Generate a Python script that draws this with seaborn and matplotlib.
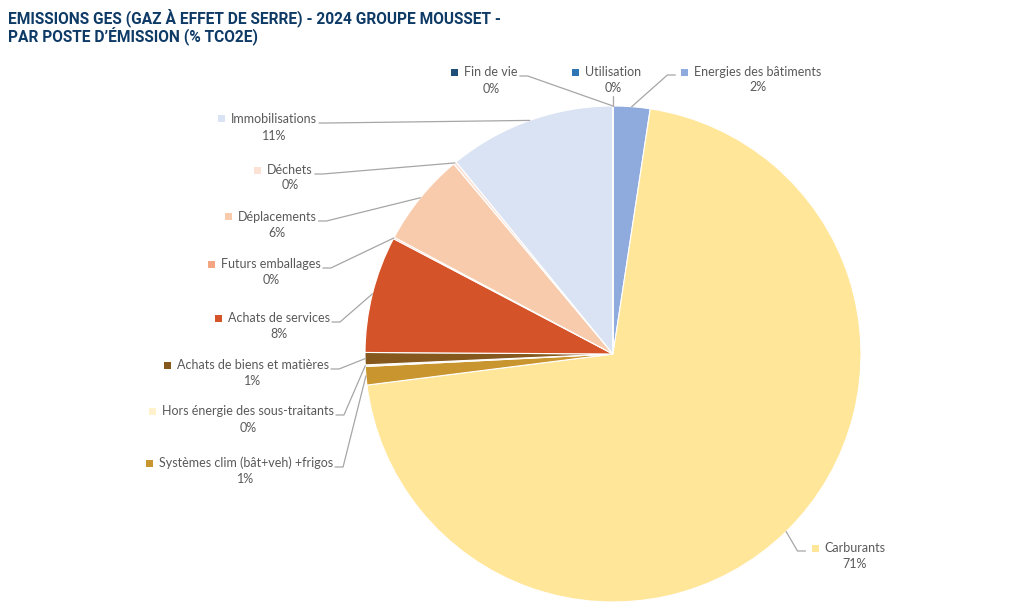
import numpy as np
import matplotlib
matplotlib.use("Agg")
import matplotlib.pyplot as plt
from matplotlib.lines import Line2D
from matplotlib.patches import Rectangle
from matplotlib import font_manager
import seaborn as sns

# data, clockwise from 12 o'clock
CATEGORIES = [
    "Energies des bâtiments",
    "Carburants",
    "Systèmes clim (bât+veh) +frigos",
    "Hors énergie des sous-traitants",
    "Achats de biens et matières",
    "Achats de services",
    "Futurs emballages",
    "Déplacements",
    "Déchets",
    "Immobilisations",
    "Fin de vie",
    "Utilisation",
]
SHARES = [2.4, 70.6, 1.2, 0.1, 0.8, 7.6, 0.1, 6.1, 0.2, 10.9, 0.0, 0.0]
COLORS = [
    "#8FAADC", "#FFE699", "#C9952E", "#FFF2CC", "#85581E", "#D55328",
    "#F4A582", "#F8CBAD", "#FBE2D5", "#DAE3F3", "#1F4E79", "#2E75B6",
]

TITLE = "EMISSIONS GES (GAZ À EFFET DE SERRE) - 2024 GROUPE MOUSSET -\nPAR POSTE D’ÉMISSION (% TCO2E)"

# label layout in pixels: centre x of name, name y, pct y, side of the leader line
LABEL_LAYOUT = [
    (758, 72, 87, "right"),
    (855, 548, 564, "right"),
    (246, 463, 479, "left"),
    (248, 411, 428, "left"),
    (253, 365, 381, "left"),
    (279, 318, 334, "left"),
    (271, 264, 280, "left"),
    (277, 217, 233, "left"),
    (290, 170, 185, "left"),
    (274, 119, 136, "left"),
    (491, 72, 89, "left"),
    (613, 72, 88, "below"),
]

W, H = 1024, 611
sns.set_theme(style="white")
plt.rcParams["font.family"] = ["Lato", "DejaVu Sans"]

# narrow face for the title if there is one
names = {f.name for f in font_manager.fontManager.ttflist}
title_font = ["Liberation Sans Narrow", "Roboto", "DejaVu Sans"]
title_font = [f for f in title_font if f in names] or ["DejaVu Sans"]
title_size = 13.5 if title_font[0] == "Liberation Sans Narrow" else 11.2

fig = plt.figure(figsize=(W / 100, H / 100), dpi=100)
fig.patch.set_facecolor("white")

def fx(x):
    return x / W

def fy(y):
    return 1 - y / H

# pie centre (613, 354), radius 248 px
cx, cy, r = 613, 354, 248
ax = fig.add_axes([fx(cx - r), fy(cy + r), 2 * r / W, 2 * r / H])
wedges, _ = ax.pie(SHARES, colors=COLORS, startangle=90, counterclock=False,
                   radius=1, wedgeprops=dict(edgecolor="white", linewidth=0.8))
ax.set_xlim(-1, 1)
ax.set_ylim(-1, 1)
ax.set_aspect("auto")
ax.axis("off")

fig.text(fx(8), fy(8), TITLE, ha="left", va="top", fontsize=title_size,
         fontweight="bold", color="#0E3A66", family=title_font,
         linespacing=1.05)

total = sum(SHARES)
grey = "#595959"
name_texts = []
for name, share, (lx, ny, py, side) in zip(CATEGORIES, SHARES, LABEL_LAYOUT):
    t = fig.text(fx(lx), fy(ny), name, ha="center", va="center",
                 fontsize=9, color=grey)
    fig.text(fx(lx), fy(py), f"{share / total * 100:.0f}%", ha="center",
             va="center", fontsize=9, color=grey)
    name_texts.append(t)

fig.canvas.draw()
renderer = fig.canvas.get_renderer()

for w, t, col, (lx, ny, py, side) in zip(wedges, name_texts, COLORS, LABEL_LAYOUT):
    bb = t.get_window_extent(renderer)
    left = bb.x0
    right = bb.x1
    # square marker
    fig.add_artist(Rectangle((fx(left - 13), fy(ny + 3.5)), 7 / W, 7 / H,
                             transform=fig.transFigure, color=col, lw=0))
    # anchor on the arc, middle of the wedge
    mid = np.deg2rad((w.theta1 + w.theta2) / 2)
    ax_pt = ax.transData.transform((np.cos(mid), np.sin(mid)))
    ax_x, ax_y = ax_pt[0], H - ax_pt[1]
    if side == "left":
        ex, ey = right + 2, ny + 4
        xs, ys = [ax_x, ex + 8, ex], [ax_y, ey, ey]
    elif side == "right":
        ex, ey = left - 19, ny + 3
        xs, ys = [ax_x, ex - 8, ex], [ax_y, ey, ey]
    else:
        xs, ys = [ax_x, ax_x], [ax_y, py + 8]
    fig.add_artist(Line2D([fx(v) for v in xs], [fy(v) for v in ys],
                          transform=fig.transFigure, color="#A6A6A6", lw=0.9))

fig.savefig("out.png", dpi=100, facecolor="white")
